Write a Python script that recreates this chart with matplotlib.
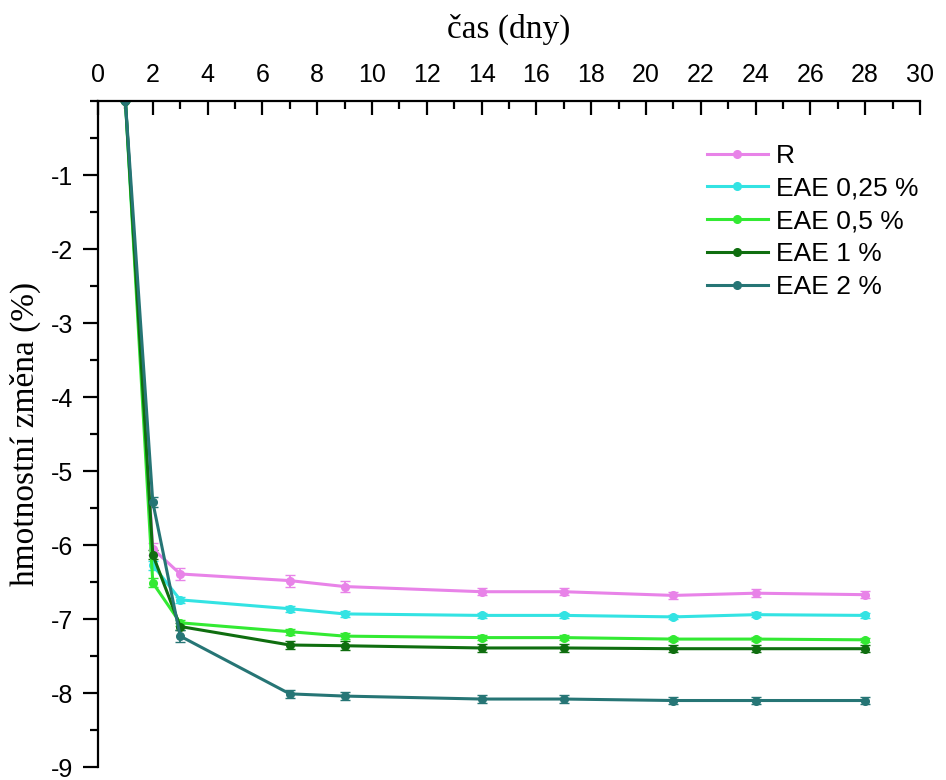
import matplotlib
matplotlib.use("Agg")
import matplotlib.pyplot as plt
from matplotlib.ticker import MultipleLocator

plt.rcParams["axes.unicode_minus"] = False

# days of measurement
dny = [1, 2, 3, 7, 9, 14, 17, 21, 24, 28]

# mass change (%) for each mix
r_vals = [0, -6.05, -6.39, -6.48, -6.56, -6.63, -6.63, -6.68, -6.65, -6.67]
eae025 = [0, -6.27, -6.74, -6.86, -6.93, -6.95, -6.95, -6.97, -6.94, -6.95]
eae05 = [0, -6.51, -7.05, -7.17, -7.23, -7.25, -7.25, -7.27, -7.27, -7.28]
eae1 = [0, -6.13, -7.10, -7.35, -7.36, -7.39, -7.39, -7.40, -7.40, -7.40]
eae2 = [0, -5.42, -7.23, -8.01, -8.04, -8.08, -8.08, -8.10, -8.10, -8.10]

# error bars
r_err = [0, 0.08, 0.08, 0.08, 0.08, 0.05, 0.05, 0.05, 0.05, 0.05]
eae025_err = [0, 0.06, 0.04, 0.04, 0.04, 0.03, 0.03, 0.03, 0.03, 0.03]
eae05_err = [0, 0.06, 0.04, 0.04, 0.04, 0.03, 0.03, 0.03, 0.03, 0.03]
eae1_err = [0, 0.06, 0.05, 0.06, 0.06, 0.05, 0.05, 0.05, 0.05, 0.05]
eae2_err = [0, 0.07, 0.08, 0.05, 0.05, 0.05, 0.05, 0.05, 0.05, 0.05]

labels = ["R", "EAE 0,25 %", "EAE 0,5 %", "EAE 1 %", "EAE 2 %"]
series = [r_vals, eae025, eae05, eae1, eae2]
errors = [r_err, eae025_err, eae05_err, eae1_err, eae2_err]
colors = ["#E883E8", "#33E3E3", "#33EA33", "#0F6E0F", "#267575"]

fig = plt.figure(figsize=(9.46, 7.8), dpi=100)
ax = fig.add_axes([0.1036, 0.0165, 0.8689, 0.854])

handles = []
for y, e, c, lab in zip(series, errors, colors, labels):
    cont = ax.errorbar(dny, y, yerr=e, color=c, lw=2.2, marker="o", ms=5.5,
                       capsize=3.5, elinewidth=1.3, label=lab)
    handles.append(cont.lines[0])

ax.set_xlim(0, 30)
ax.set_ylim(-9, 0)
ax.xaxis.tick_top()
ax.xaxis.set_label_position("top")
ax.xaxis.set_major_locator(MultipleLocator(2))
ax.xaxis.set_minor_locator(MultipleLocator(1))
ax.yaxis.set_minor_locator(MultipleLocator(0.5))
ax.set_yticks([-1, -2, -3, -4, -5, -6, -7, -8, -9])

ax.spines["right"].set_visible(False)
ax.spines["bottom"].set_visible(False)
ax.spines["top"].set_linewidth(1.6)
ax.spines["left"].set_linewidth(1.6)

ax.tick_params(axis="x", which="both", direction="in", width=1.6,
               labelsize=18, pad=10)
ax.tick_params(axis="x", which="major", length=10)
ax.tick_params(axis="x", which="minor", length=6)
ax.tick_params(axis="y", which="both", direction="out", width=1.6,
               labelsize=18, pad=7)
ax.tick_params(axis="y", which="major", length=11)
ax.tick_params(axis="y", which="minor", length=6)
for t in ax.get_xticklabels() + ax.get_yticklabels():
    t.set_family("Liberation Sans")

ax.set_xlabel("čas (dny)", family="Liberation Serif", fontsize=24, labelpad=18)
ax.set_ylabel("hmotnostní změna (%)", family="Liberation Serif", fontsize=24,
              labelpad=7)

leg = fig.legend(handles=handles, labels=labels, loc="upper left",
                 bbox_to_anchor=(707 / 946, 1 - 144 / 780), frameon=False,
                 prop={"family": "Liberation Sans", "size": 19},
                 handlelength=2.3, handletextpad=0.3, labelspacing=0.33,
                 borderpad=0, borderaxespad=0)

fig.savefig("out.png", dpi=100)
